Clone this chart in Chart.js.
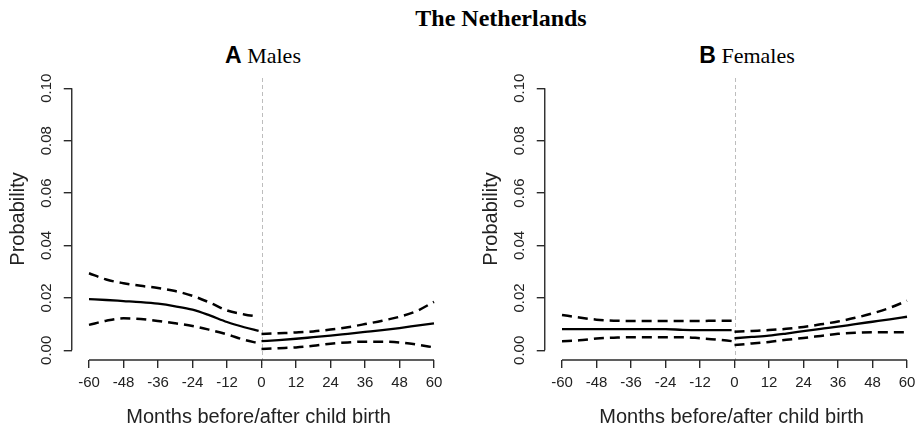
<!DOCTYPE html>
<html>
<head>
<meta charset="utf-8">
<script src="https://cdn.jsdelivr.net/npm/chart.js@4"></script>
<style>
  html, body { margin: 0; padding: 0; background: #fff; }
  #wrap { position: relative; width: 922px; height: 429px; overflow: hidden; background: #fff; }
  canvas { position: absolute; top: 0; }
  .t { position: absolute; white-space: nowrap; color: #000; transform: translateX(-50%); }
  .main { font-family: "Liberation Serif", "Times New Roman", serif; font-weight: bold; font-size: 24px; line-height: 24px; }
  .panel { font-size: 22px; line-height: 24px; }
  .panel b { font-family: "Liberation Sans", Arial, sans-serif; font-weight: bold; font-size: 23px; }
  .panel span { font-family: "Liberation Serif", "Times New Roman", serif; font-size: 22px; }
</style>
</head>
<body>
<div id="wrap">
  <div class="t main" style="left:501px; top:6px;">The Netherlands</div>
  <div class="t panel" style="left:263px; top:43px;"><b>A</b> <span>Males</span></div>
  <div class="t panel" style="left:747px; top:43px;"><b>B</b> <span>Females</span></div>
  <div style="position:absolute; left:0; top:0; width:461px; height:429px;"><canvas id="cA"></canvas></div>
  <div style="position:absolute; left:473px; top:0; width:449px; height:429px;"><canvas id="cB"></canvas></div>
</div>
<script>
// ---- data ----
const monthsPre  = [-60, -54, -48, -42, -36, -30, -24, -18, -12, -6, -1];
const monthsPost = [0, 6, 12, 18, 24, 30, 36, 42, 48, 54, 60];

const malesMeanPre   = [0.0195, 0.0192, 0.0188, 0.0184, 0.0178, 0.0168, 0.0155, 0.0133, 0.0108, 0.0088, 0.0074];
const malesUpperPre  = [0.0294, 0.0270, 0.0256, 0.0246, 0.0238, 0.0226, 0.0208, 0.0182, 0.0152, 0.0137, 0.0128];
const malesLowerPre  = [0.0097, 0.0113, 0.0122, 0.0119, 0.0112, 0.0103, 0.0093, 0.0078, 0.0061, 0.0040, 0.0027];
const malesMeanPost  = [0.0035, 0.0039, 0.0044, 0.0050, 0.0056, 0.0063, 0.0070, 0.0077, 0.0085, 0.0094, 0.0103];
const malesUpperPost = [0.0062, 0.0065, 0.0068, 0.0072, 0.0079, 0.0088, 0.0100, 0.0113, 0.0128, 0.0150, 0.0185];
const malesLowerPost = [0.0005, 0.0008, 0.0011, 0.0017, 0.0025, 0.0030, 0.0033, 0.0033, 0.0030, 0.0022, 0.0011];

const femalesMeanPre   = [0.0081, 0.0081, 0.0081, 0.0081, 0.0081, 0.0081, 0.0081, 0.0078, 0.0077, 0.0077, 0.0077];
const femalesUpperPre  = [0.0135, 0.0125, 0.0117, 0.0113, 0.0112, 0.0112, 0.0112, 0.0112, 0.0112, 0.0113, 0.0113];
const femalesLowerPre  = [0.0035, 0.0038, 0.0045, 0.0048, 0.0050, 0.0050, 0.0050, 0.0050, 0.0046, 0.0041, 0.0035];
const femalesMeanPost  = [0.0046, 0.0051, 0.0056, 0.0064, 0.0073, 0.0082, 0.0090, 0.0100, 0.0109, 0.0118, 0.0128];
const femalesUpperPost = [0.0071, 0.0074, 0.0077, 0.0082, 0.0089, 0.0099, 0.0110, 0.0124, 0.0141, 0.0162, 0.0189];
const femalesLowerPost = [0.0020, 0.0026, 0.0032, 0.0040, 0.0047, 0.0055, 0.0063, 0.0067, 0.0069, 0.0069, 0.0069];

const xTickValues = [-60, -48, -36, -24, -12, 0, 12, 24, 36, 48, 60];
const xTickLabels = ["-60", "-48", "-36", "-24", "-12", "0", "12", "24", "36", "48", "60"];
const yTickValues = [0, 0.02, 0.04, 0.06, 0.08, 0.10];
const yTickLabels = ["0.00", "0.02", "0.04", "0.06", "0.08", "0.10"];
const birthMonth = 0;
const xTitle = "Months before/after child birth";
const yTitle = "Probability";

// ---- drawing ----
const TICK_FONT = { family: "'Liberation Sans Narrow', 'Liberation Sans', Arial, sans-serif", size: 15 };
const TITLE_FONT = { family: "'Liberation Sans', Arial, sans-serif", size: 20 };
const AXIS_COLOR = '#2a2a2a';

function pts(xs, ys) { return xs.map((x, i) => ({ x: x, y: ys[i] })); }

function lineDs(xs, ys, dashed) {
  return {
    data: pts(xs, ys),
    borderColor: '#000',
    borderWidth: dashed ? 2.5 : 2.3,
    borderDash: dashed ? [10, 6] : [],
    pointRadius: 0,
    fill: false,
    cubicInterpolationMode: 'monotone'
  };
}

const rAxes = {
  id: 'rAxes',
  beforeDatasetsDraw(chart) {
    const { ctx, chartArea, scales: { x, y } } = chart;
    ctx.save();
    const bx = Math.round(x.getPixelForValue(birthMonth)) + 0.5;
    ctx.strokeStyle = '#bdbdbd';
    ctx.lineWidth = 1;
    ctx.setLineDash([4, 3]);
    ctx.beginPath();
    ctx.moveTo(bx, chartArea.top);
    ctx.lineTo(bx, chartArea.bottom + 8);
    ctx.stroke();
    ctx.setLineDash([]);
    ctx.strokeStyle = AXIS_COLOR;
    ctx.lineWidth = 1.4;
    const ax = chartArea.left;
    ctx.beginPath();
    ctx.moveTo(ax, y.getPixelForValue(yTickValues[0]));
    ctx.lineTo(ax, y.getPixelForValue(yTickValues[yTickValues.length - 1]));
    ctx.stroke();
    const ay = chartArea.bottom;
    ctx.beginPath();
    ctx.moveTo(x.getPixelForValue(xTickValues[0]), ay);
    ctx.lineTo(x.getPixelForValue(xTickValues[xTickValues.length - 1]), ay);
    ctx.stroke();
    ctx.restore();
  }
};

function makeChart(id, rightPad, series) {
  return new Chart(document.getElementById(id), {
    type: 'line',
    data: {
      datasets: [
        lineDs(monthsPre, series.meanPre, false),
        lineDs(monthsPre, series.upperPre, true),
        lineDs(monthsPre, series.lowerPre, true),
        lineDs(monthsPost, series.meanPost, false),
        lineDs(monthsPost, series.upperPost, true),
        lineDs(monthsPost, series.lowerPost, true)
      ]
    },
    options: {
      responsive: true,
      maintainAspectRatio: false,
      animation: false,
      layout: { padding: { top: 78, left: 0, right: rightPad, bottom: 0 } },
      plugins: { legend: { display: false }, tooltip: { enabled: false }, title: { display: false } },
      scales: {
        x: {
          type: 'linear',
          min: -66, max: 64,
          afterBuildTicks: s => { s.ticks = xTickValues.map(v => ({ value: v })); },
          afterFit: s => { s.height = 69; },
          border: { display: false },
          grid: { display: true, drawOnChartArea: false, drawTicks: true, tickLength: 8, color: AXIS_COLOR, lineWidth: 1.4 },
          ticks: {
            autoSkip: false, maxRotation: 0, minRotation: 0, padding: 6,
            color: '#222', font: TICK_FONT,
            callback: (v, i) => xTickLabels[i]
          },
          title: { display: true, text: xTitle, color: '#222', font: TITLE_FONT, padding: { top: 0, bottom: 0 } }
        },
        y: {
          type: 'linear',
          min: -0.0037, max: 0.1039,
          afterBuildTicks: s => { s.ticks = yTickValues.map(v => ({ value: v })); },
          afterFit: s => { s.width = 71.75; },
          border: { display: false },
          grid: { display: true, drawOnChartArea: false, drawTicks: true, tickLength: 8, color: AXIS_COLOR, lineWidth: 1.4 },
          ticks: {
            autoSkip: false, minRotation: 90, maxRotation: 90, crossAlign: 'center', padding: 2,
            color: '#222', font: TICK_FONT,
            callback: (v, i) => yTickLabels[i]
          },
          title: { display: true, text: yTitle, color: '#222', font: TITLE_FONT, padding: { top: 6, bottom: 0 } }
        }
      }
    },
    plugins: [rAxes]
  });
}

makeChart('cA', 15.5, {
  meanPre: malesMeanPre, upperPre: malesUpperPre, lowerPre: malesLowerPre,
  meanPost: malesMeanPost, upperPost: malesUpperPost, lowerPost: malesLowerPost
});
makeChart('cB', 3.5, {
  meanPre: femalesMeanPre, upperPre: femalesUpperPre, lowerPre: femalesLowerPre,
  meanPost: femalesMeanPost, upperPost: femalesUpperPost, lowerPost: femalesLowerPost
});
</script>
</body>
</html>
